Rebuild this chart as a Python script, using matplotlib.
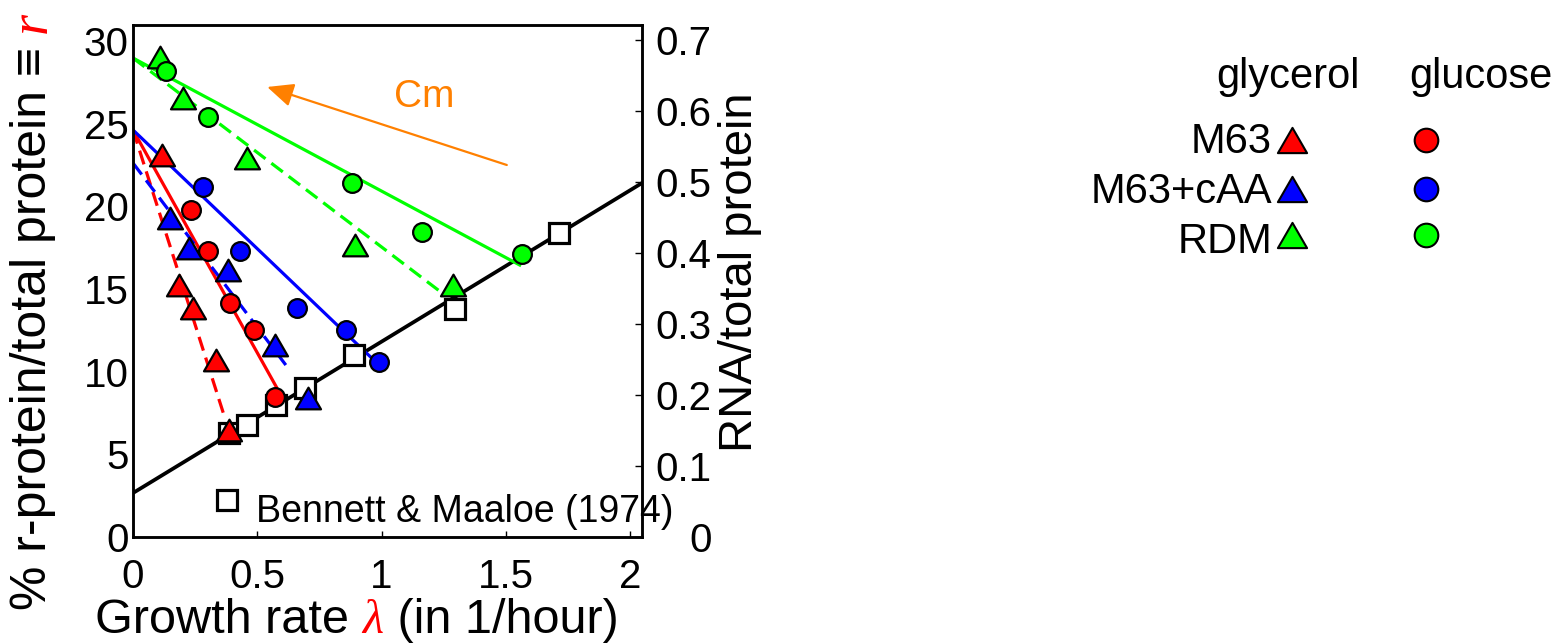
import matplotlib
matplotlib.use("Agg")
import matplotlib.pyplot as plt
import numpy as np
from matplotlib.lines import Line2D
from matplotlib.path import Path

plt.rcParams['font.family'] = ['Liberation Sans', 'DejaVu Sans']

W, H = 1560, 644

# Bennett & Maaloe (1974): growth rate (1/h) vs r-protein fraction (%)
bm_lam = [0.387, 0.460, 0.577, 0.694, 0.891, 1.294, 1.714]
bm_r = [6.29, 6.77, 7.98, 9.01, 11.01, 13.79, 18.39]
bm_intercept = 2.66
bm_slope = 9.155

media = ['M63', 'M63+cAA', 'RDM']
colors = ['#ff0000', '#0000ff', '#00ff00']

# glycerol (triangles)
gly_lam = [
    [0.117, 0.185, 0.242, 0.335, 0.387],
    [0.149, 0.226, 0.383, 0.573, 0.706],
    [0.109, 0.202, 0.460, 0.895, 1.286],
]
gly_r = [
    [23.11, 15.24, 13.85, 10.71, 6.47],
    [19.29, 17.48, 16.15, 11.61, 8.41],
    [29.03, 26.55, 22.93, 17.66, 15.24],
]
# glucose (circles)
glu_lam = [
    [0.234, 0.302, 0.391, 0.488, 0.573],
    [0.282, 0.431, 0.661, 0.859, 0.988],
    [0.133, 0.302, 0.883, 1.161, 1.565],
]
glu_r = [
    [19.78, 17.30, 14.15, 12.52, 8.47],
    [21.17, 17.30, 13.85, 12.52, 10.58],
    [28.19, 25.40, 21.41, 18.45, 17.12],
]

# Cm titration lines: r at lambda = 0 and at the end point
gly_r0 = [24.62, 22.62, 28.97]
gly_lam_end = [0.371, 0.621, 1.254]
gly_r_end = [7.14, 10.28, 14.64]
glu_r0 = [24.62, 24.62, 28.97]
glu_lam_end = [0.577, 0.960, 1.556]
glu_r_end = [9.07, 10.83, 16.45]

x_ticks = [0, 0.5, 1, 1.5, 2]
y_ticks = [0, 5, 10, 15, 20, 25, 30]
rna_ticks = [0, 0.1, 0.2, 0.3, 0.4, 0.5, 0.6, 0.7]

orange = '#ff8000'
tri = Path([(-1, -0.866), (1, -0.866), (0, 0.866), (0, 0)], closed=True)

fig = plt.figure(figsize=(W / 100, H / 100), dpi=100)
ax = fig.add_axes([133 / W, 1 - 537 / H, (642 - 133) / W, (537 - 25) / H])
xmax = 2.048
ax.set_xlim(0, xmax)
ax.set_ylim(0, 30.968)

# Bennett & Maaloe fit and points
ax.plot([0, xmax], [bm_intercept, bm_intercept + bm_slope * xmax],
        color='k', lw=2.7, zorder=2)
ax.plot(bm_lam, bm_r, 's', ms=14.5, mfc='white', mec='k', mew=2.3, zorder=3)

for i in range(3):
    ax.plot([0, gly_lam_end[i]], [gly_r0[i], gly_r_end[i]], color=colors[i],
            lw=2.3, dashes=(4.5, 2.3), zorder=2)
    ax.plot([0, glu_lam_end[i]], [glu_r0[i], glu_r_end[i]], color=colors[i],
            lw=2.3, zorder=2)
    ax.plot(gly_lam[i], gly_r[i], linestyle='none', marker=tri, ms=18,
            mfc=colors[i], mec='k', mew=1.6, zorder=4)
    ax.plot(glu_lam[i], glu_r[i], 'o', ms=13.5, mfc=colors[i], mec='k',
            mew=1.6, zorder=4)

# chloramphenicol arrow
ax.annotate('', xy=(0.540, 27.22), xytext=(1.504, 22.50),
            arrowprops=dict(arrowstyle='-|>,head_length=0.8,head_width=0.36',
                            color=orange, lw=1.6, shrinkA=0, shrinkB=0,
                            mutation_scale=20))
ax.text(1.052, 26.01, 'Cm', color=orange, fontsize=28, ha='left', va='baseline')

# in-axes key for the reference data
ax.plot([0.379], [2.24], 's', ms=14.5, mfc='white', mec='k', mew=2.3, zorder=3)
ax.text(0.496, 0.91, 'Bennett & Maaloe (1974)', fontsize=27, va='baseline')

ax.set_xticks(x_ticks)
ax.set_xticklabels(['%g' % v for v in x_ticks])
ax.set_yticks(y_ticks)
ax.set_yticklabels(['%g' % v for v in y_ticks])
ax.tick_params(axis='x', direction='in', length=4, width=1, pad=15, labelsize=29)
ax.tick_params(axis='y', direction='in', length=0, pad=3, labelsize=29, right=False)

# RNA/protein scale on the right, labels right-aligned
ax2 = ax.twinx()
ax2.set_ylim(0, 0.7211)
ax2.set_yticks(rna_ticks)
ax2.set_yticklabels(['%g' % v for v in rna_ticks], ha='right')
ax2.tick_params(axis='y', direction='in', length=5, width=1, pad=50, labelsize=29)
for a in (ax, ax2):
    for s in a.spines.values():
        s.set_linewidth(1.8)

# axis labels with the red symbols
lab = fig.text(33 / W, (H - 610) / H, '% r-protein/total protein \u2261 ',
               rotation=90, ha='center', va='bottom', fontsize=36)
fig.canvas.draw()
ax.annotate('r', xy=(0.5, 1), xycoords=lab, rotation=90, ha='center',
            va='bottom', fontsize=39, color='red', family='Liberation Serif',
            style='italic', annotation_clip=False)

t1 = fig.text(95 / W, (H - 633) / H, 'Growth rate ', ha='left', va='baseline',
              fontsize=35)
t2 = ax.annotate('\u03bb', xy=(1, 0), xycoords=t1, ha='left', va='bottom',
                 fontsize=35, color='red', family='Liberation Serif',
                 style='italic', annotation_clip=False)
ax.annotate(' (in 1/hour)', xy=(1, 0), xycoords=t2, ha='left', va='bottom',
            fontsize=35, annotation_clip=False)

fig.text(740 / W, 1 - 272 / H, 'RNA/total protein', rotation=90,
         ha='center', va='center', fontsize=34)

# medium / carbon-source key
fig.text(1288 / W, 1 - 88 / H, 'glycerol', ha='center', va='baseline', fontsize=30)
fig.text(1481 / W, 1 - 88 / H, 'glucose', ha='center', va='baseline', fontsize=30)
row_base = [153, 203, 253]
row_mid = [140, 189, 235]
for i, m in enumerate(media):
    fig.text(1272 / W, 1 - row_base[i] / H, m, ha='right', va='baseline',
             fontsize=30)
    fig.add_artist(Line2D([1292 / W], [1 - row_mid[i] / H], linestyle='none',
                          marker=tri, ms=21, mfc=colors[i], mec='k', mew=1.5,
                          transform=fig.transFigure))
    fig.add_artist(Line2D([1426 / W], [1 - row_mid[i] / H], linestyle='none',
                          marker='o', ms=17, mfc=colors[i], mec='k', mew=1.5,
                          transform=fig.transFigure))

fig.savefig('out.png', dpi=100)
